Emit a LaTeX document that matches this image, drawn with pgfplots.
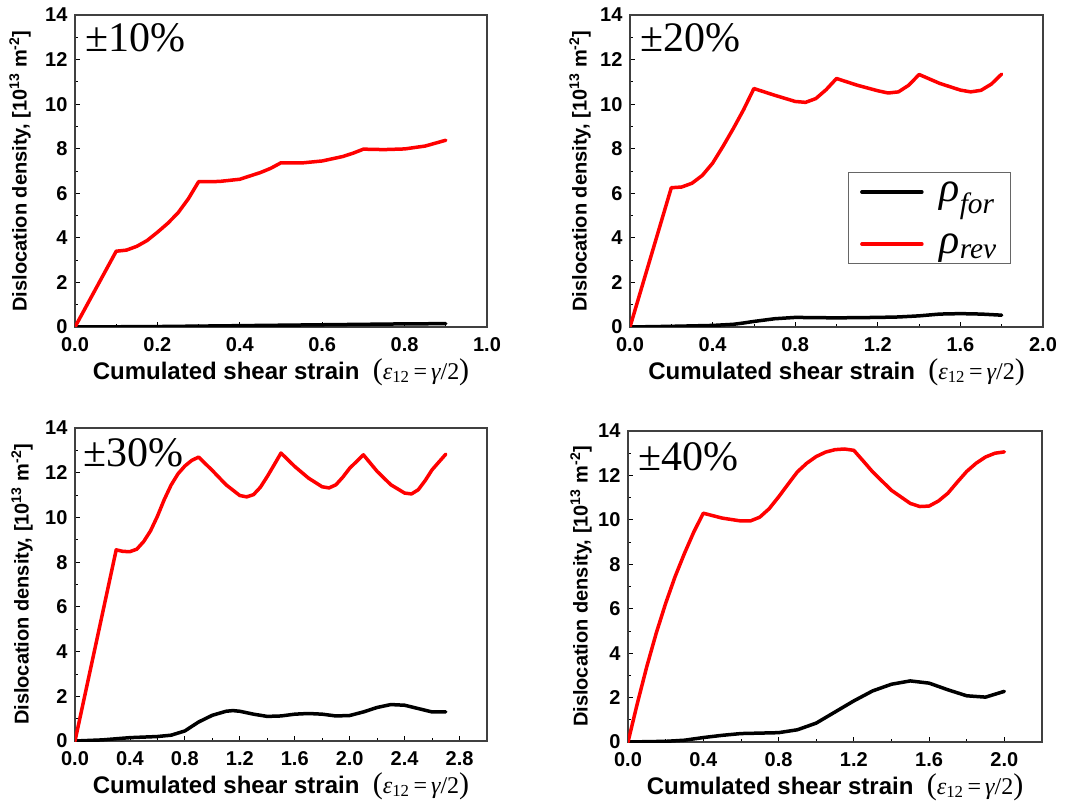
\documentclass[border=0pt]{standalone}
\usepackage{fontspec}
\setmainfont{Liberation Sans}
\newfontfamily\serif{Liberation Serif}
\usepackage{pgfplots}
\pgfplotsset{compat=1.18}

\pgfplotsset{
  panel/.style={
    scale only axis,
    anchor=south west,
    xmin=0, ymin=0, ymax=14,
    ytick={0,2,...,14},
    minor x tick num=1, minor y tick num=1,
    tick pos=left, tick align=inside,
    major tick length=5pt, minor tick length=3pt,
    every tick/.style={black, line width=0.8pt},
    axis line style={black!75, line width=1.2pt},
    /pgf/number format/assume math mode=true,
    ticklabel style={font=\bfseries\fontsize{20}{20}\selectfont},
    xticklabel style={yshift=-7pt, /pgf/number format/.cd, fixed, fixed zerofill, precision=1},
    yticklabel style={xshift=-4pt, /pgf/number format/.cd, fixed, precision=0},
    xlabel={\bfseries\fontsize{24}{24}\selectfont Cumulated shear strain\ \ {\mdseries\serif\fontsize{30}{30}\selectfont(}{\mdseries\serif\fontsize{24}{24}\selectfont\itshape ε\textsubscript{\upshape 12}\upshape\,=\,\itshape γ\upshape/2}{\mdseries\serif\fontsize{30}{30}\selectfont)}},
    ylabel={\bfseries\fontsize{20}{20}\selectfont Dislocation density, [10\textsuperscript{13} m\textsuperscript{-2}]},
    xlabel style={at={(axis description cs:0.5,0)}, anchor=center, yshift=-45pt},
    ylabel style={anchor=center},
    every axis plot/.append style={line width=3.5pt, line join=round, line cap=round},
  },
  rev/.style={red},
  for/.style={black},
}

\begin{document}
\begin{tikzpicture}
\useasboundingbox (0,0) rectangle (1077pt,807pt);

% +-10%
\begin{axis}[panel, at={(75pt,480pt)}, width=412pt, height=312pt,
  xmax=1.0, xtick={0,0.2,...,1.0},
  ylabel style={at={([xshift=-55pt]axis description cs:0,0.5)}}]
\addplot[for] coordinates {(0,0) (0.1,0.01) (0.2,0.02) (0.3,0.04) (0.4,0.06) (0.5,0.08) (0.6,0.1) (0.7,0.12) (0.8,0.14) (0.9,0.15)};
\addplot[rev] coordinates {(0,0) (0.1,3.4) (0.125,3.45) (0.15,3.62) (0.175,3.88) (0.2,4.25) (0.225,4.65) (0.25,5.12) (0.275,5.75) (0.3,6.52) (0.35,6.53) (0.4,6.63) (0.45,6.93) (0.475,7.12) (0.5,7.37) (0.55,7.36) (0.6,7.45) (0.65,7.65) (0.675,7.8) (0.7,7.98) (0.75,7.96) (0.8,7.99) (0.85,8.12) (0.9,8.38)};
\node[anchor=north west, inner sep=0pt, font=\serif\fontsize{42}{42}\selectfont] at (rel axis cs:0,1) [xshift=10pt, yshift=-8pt] {±10\%};
\end{axis}

% +-20%
\begin{axis}[panel, at={(630pt,480pt)}, width=413pt, height=312pt,
  xmax=2.0, xtick={0,0.4,...,2.0},
  ylabel style={at={([xshift=-50pt]axis description cs:0,0.5)}},
  legend style={at={(rel axis cs:0.527,0.497)}, anchor=north west,
    draw=black!60, line width=1pt, fill=white,
    font=\serif\itshape\fontsize{42}{42}\selectfont,
    inner xsep=12pt, inner ysep=7pt, row sep=27pt,
    /tikz/every odd column/.append style={column sep=14pt}},
  legend cell align=left,
  legend image code/.code={\draw[#1, line width=3.5pt] (0pt,0pt) -- (60pt,0pt);}]
\addplot[for] coordinates {(0,0) (0.2,0.03) (0.4,0.07) (0.5,0.12) (0.55,0.18) (0.6,0.25) (0.7,0.37) (0.8,0.43) (0.9,0.42) (1.0,0.41) (1.1,0.42) (1.2,0.43) (1.3,0.45) (1.4,0.5) (1.5,0.58) (1.6,0.6) (1.7,0.58) (1.8,0.53)};
\addlegendentry{ρ\textsubscript{for}}
\addplot[rev] coordinates {(0,0) (0.2,6.25) (0.25,6.28) (0.3,6.45) (0.35,6.8) (0.4,7.35) (0.45,8.1) (0.5,8.9) (0.55,9.75) (0.6,10.7) (0.7,10.4) (0.8,10.12) (0.85,10.08) (0.9,10.25) (0.95,10.65) (1.0,11.15) (1.1,10.85) (1.2,10.6) (1.25,10.5) (1.3,10.55) (1.35,10.85) (1.4,11.33) (1.5,10.93) (1.6,10.63) (1.65,10.55) (1.7,10.62) (1.75,10.9) (1.8,11.35)};
\addlegendentry{ρ\textsubscript{rev}}
\node[anchor=north west, inner sep=0pt, font=\serif\fontsize{42}{42}\selectfont] at (rel axis cs:0,1) [xshift=10pt, yshift=-8pt] {±20\%};
\end{axis}

% +-30%
\begin{axis}[panel, at={(75pt,66pt)}, width=412pt, height=313pt,
  xmax=3.0, xtick={0,0.4,...,2.8},
  ylabel style={at={([xshift=-53pt]axis description cs:0,0.5)}}]
\addplot[for] coordinates {(0,0) (0.2,0.05) (0.4,0.15) (0.6,0.2) (0.7,0.26) (0.8,0.45) (0.9,0.85) (1.0,1.15) (1.1,1.33) (1.15,1.36) (1.2,1.33) (1.3,1.2) (1.4,1.1) (1.5,1.12) (1.6,1.2) (1.7,1.23) (1.8,1.2) (1.9,1.12) (2.0,1.14) (2.1,1.3) (2.2,1.5) (2.3,1.63) (2.4,1.6) (2.5,1.45) (2.6,1.3) (2.7,1.3)};
\addplot[rev] coordinates {(0,0) (0.3,8.55) (0.35,8.48) (0.4,8.47) (0.45,8.58) (0.5,8.92) (0.55,9.4) (0.6,10.05) (0.65,10.8) (0.7,11.45) (0.75,11.95) (0.8,12.3) (0.85,12.55) (0.9,12.7) (1.0,12.1) (1.1,11.46) (1.2,10.98) (1.25,10.92) (1.3,11.02) (1.35,11.35) (1.4,11.83) (1.45,12.35) (1.5,12.88) (1.6,12.28) (1.7,11.76) (1.8,11.37) (1.85,11.32) (1.9,11.46) (1.95,11.8) (2.0,12.2) (2.1,12.8) (2.2,12.06) (2.3,11.46) (2.4,11.09) (2.45,11.05) (2.5,11.24) (2.55,11.65) (2.6,12.13) (2.7,12.83)};
\node[anchor=north west, inner sep=0pt, font=\serif\fontsize{42}{42}\selectfont] at (rel axis cs:0,1) [xshift=8pt, yshift=-10pt] {±30\%};
\end{axis}

% +-40%
\begin{axis}[panel, at={(628pt,65pt)}, width=414pt, height=311pt,
  xmax=2.2, xtick={0,0.4,...,2.0},
  ylabel style={at={([xshift=-47pt]axis description cs:0,0.5)}}]
\addplot[for] coordinates {(0,0) (0.2,0.03) (0.3,0.08) (0.4,0.2) (0.5,0.3) (0.6,0.38) (0.7,0.4) (0.8,0.42) (0.9,0.55) (1.0,0.85) (1.1,1.35) (1.2,1.85) (1.3,2.3) (1.4,2.6) (1.5,2.75) (1.6,2.65) (1.7,2.35) (1.8,2.08) (1.9,2.02) (2.0,2.28)};
\addplot[rev] coordinates {(0,0) (0.05,1.75) (0.1,3.4) (0.15,4.9) (0.2,6.24) (0.25,7.44) (0.3,8.49) (0.35,9.46) (0.4,10.3) (0.5,10.08) (0.6,9.95) (0.65,9.95) (0.7,10.12) (0.75,10.5) (0.8,11.03) (0.85,11.6) (0.9,12.16) (0.95,12.55) (1.0,12.85) (1.05,13.05) (1.1,13.16) (1.15,13.19) (1.2,13.13) (1.25,12.65) (1.3,12.16) (1.4,11.33) (1.5,10.74) (1.55,10.6) (1.6,10.62) (1.65,10.85) (1.7,11.2) (1.75,11.7) (1.8,12.18) (1.85,12.55) (1.9,12.83) (1.95,13.0) (2.0,13.06)};
\node[anchor=north west, inner sep=0pt, font=\serif\fontsize{42}{42}\selectfont] at (rel axis cs:0,1) [xshift=10pt, yshift=-11pt] {±40\%};
\end{axis}
\end{tikzpicture}
\end{document}
